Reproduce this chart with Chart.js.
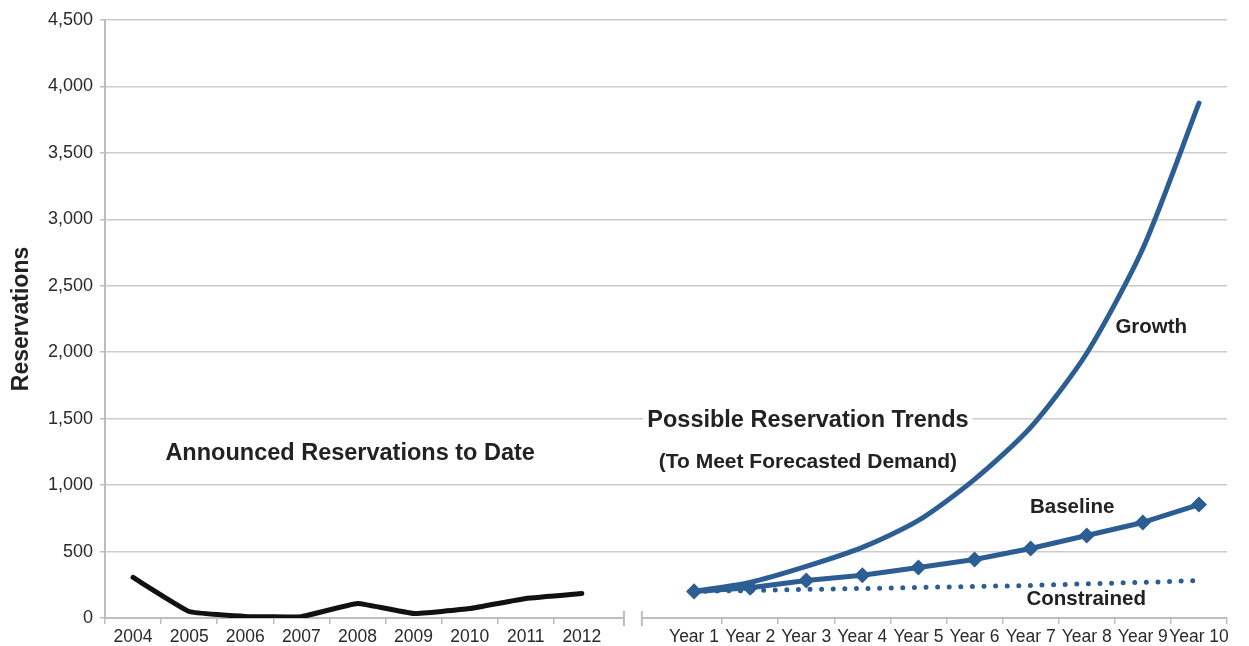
<!DOCTYPE html>
<html>
<head>
<meta charset="utf-8">
<script src="https://cdn.jsdelivr.net/npm/chart.js@4.4.1/dist/chart.umd.min.js"></script>
<style>
  html, body { margin: 0; padding: 0; background: #ffffff; }
  #wrap { width: 1249px; height: 646px; }
</style>
</head>
<body>
<div id="wrap"><canvas id="c" width="1249" height="646"></canvas></div>
<script>
// ---- data ----
const histYears = ['2004', '2005', '2006', '2007', '2008', '2009', '2010', '2011', '2012'];
const histValues = [305, 49, 12, 10, 109, 34, 71, 147, 185];
const trendYears = ['Year 1', 'Year 2', 'Year 3', 'Year 4', 'Year 5', 'Year 6', 'Year 7', 'Year 8', 'Year 9', 'Year 10'];
const growth = [200, 268, 388, 531, 734, 1043, 1434, 1992, 2780, 3874];
const baseline = [200, 228, 282, 322, 380, 440, 523, 621, 719, 854];
const constrained = [200, 207, 215, 222, 230, 237, 245, 258, 268, 282];
const yTicks = [0, 500, 1000, 1500, 2000, 2500, 3000, 3500, 4000, 4500];

// ---- build the category axis: history, one empty gap slot, trends ----
const labels = [...histYears, '', ...trendYears];
const gapIndex = histYears.length;
const padHist = arr => [...arr, ...Array(labels.length - arr.length).fill(null)];
const padTrend = arr => [...Array(gapIndex + 1).fill(null), ...arr];

const BLUE = '#2c5e93';
const FONT = '"Liberation Sans", Arial, Helvetica, sans-serif';

const annotations = [
  { text: 'Announced Reservations to Date', xi: 3.87, yv: 1239, size: 23.5 },
  { text: 'Possible Reservation Trends', xi: 12.03, yv: 1488, size: 23.5, box: true },
  { text: '(To Meet Forecasted Demand)', xi: 12.03, yv: 1170, size: 21 },
  { text: 'Growth', xi: 18.15, yv: 2189, size: 20.5 },
  { text: 'Baseline', xi: 16.74, yv: 833, size: 20.5 },
  { text: 'Constrained', xi: 16.99, yv: 137, size: 20.5 }
];

const decorPlugin = {
  id: 'decor',
  beforeDatasetsDraw(chart) {
    const { ctx, scales: { x, y } } = chart;
    ctx.save();
    ctx.textAlign = 'center';
    ctx.textBaseline = 'middle';
    annotations.forEach(a => {
      const px = x.getPixelForValue(a.xi);
      const py = y.getPixelForValue(a.yv);
      ctx.font = 'bold ' + a.size + 'px ' + FONT;
      if (a.box) {
        const w = ctx.measureText(a.text).width;
        ctx.fillStyle = '#ffffff';
        ctx.fillRect(px - w / 2 - 4, py - a.size * 0.55, w + 8, a.size * 1.1);
      }
      ctx.fillStyle = '#222222';
      ctx.fillText(a.text, px, py);
    });
    ctx.restore();
  },
  afterDraw(chart) {
    const { ctx, scales: { x, y } } = chart;
    const slot = x.getPixelForValue(1) - x.getPixelForValue(0);
    const c = x.getPixelForValue(gapIndex);
    const b1 = c - 0.25 * slot;
    const b2 = c + 0.07 * slot;
    const ay = y.getPixelForValue(0);
    ctx.save();
    ctx.fillStyle = '#ffffff';
    ctx.fillRect(b1 + 1, ay - 3, b2 - b1 - 2, 6);
    ctx.strokeStyle = '#bdbdbd';
    ctx.lineWidth = 2;
    ctx.beginPath();
    ctx.moveTo(b1, ay - 7); ctx.lineTo(b1, ay + 8);
    ctx.moveTo(b2, ay - 7); ctx.lineTo(b2, ay + 8);
    ctx.stroke();
    ctx.restore();
  }
};

new Chart(document.getElementById('c'), {
  type: 'line',
  data: {
    labels: labels,
    datasets: [
      {
        label: 'Announced Reservations to Date',
        data: padHist(histValues),
        borderColor: '#111111',
        borderWidth: 5,
        tension: 0.1,
        pointRadius: 0,
        borderCapStyle: 'round',
        borderJoinStyle: 'round'
      },
      {
        label: 'Growth',
        data: padTrend(growth),
        borderColor: BLUE,
        borderWidth: 5,
        tension: 0.25,
        pointRadius: 0,
        borderCapStyle: 'round',
        borderJoinStyle: 'round'
      },
      {
        label: 'Baseline',
        data: padTrend(baseline),
        borderColor: BLUE,
        backgroundColor: BLUE,
        borderWidth: 5,
        tension: 0,
        pointStyle: 'rectRot',
        pointRadius: 7,
        pointBorderWidth: 1.5,
        pointBackgroundColor: BLUE,
        pointBorderColor: BLUE,
        borderJoinStyle: 'round'
      },
      {
        label: 'Constrained',
        data: padTrend(constrained),
        borderColor: BLUE,
        borderWidth: 5,
        borderDash: [0, 11.6],
        borderCapStyle: 'round',
        tension: 0,
        pointRadius: 0
      }
    ]
  },
  options: {
    responsive: false,
    animation: false,
    locale: 'en-US',
    layout: { padding: { left: 8, right: 22, top: 20, bottom: 0 } },
    plugins: {
      legend: { display: false },
      tooltip: { enabled: false }
    },
    scales: {
      x: {
        type: 'category',
        offset: true,
        afterFit(s) { s.height = 28; },
        grid: {
          offset: true,
          drawOnChartArea: false,
          drawTicks: true,
          tickLength: 6,
          lineWidth: 1.5,
          color: ctx => (ctx.index === gapIndex || ctx.index === gapIndex + 1) ? 'rgba(0,0,0,0)' : '#bdbdbd'
        },
        border: { display: true, color: '#bdbdbd', width: 2 },
        ticks: {
          autoSkip: false,
          maxRotation: 0,
          minRotation: 0,
          padding: 3,
          color: '#2a2a2a',
          font: { family: FONT, size: 17.5 }
        }
      },
      y: {
        min: 0,
        max: 4500,
        afterFit(s) { s.width = 97; },
        afterBuildTicks(s) { s.ticks = yTicks.map(v => ({ value: v })); },
        grid: {
          color: '#cccccc',
          lineWidth: 1.5,
          drawTicks: true,
          tickLength: 5,
          tickColor: '#bdbdbd'
        },
        border: { display: true, color: '#bdbdbd', width: 2 },
        ticks: {
          padding: 7,
          color: '#2a2a2a',
          font: { family: FONT, size: 18 },
          callback: v => Number(v).toLocaleString('en-US')
        },
        title: {
          display: true,
          text: 'Reservations',
          color: '#222222',
          padding: { top: 0, bottom: 0 },
          font: { family: FONT, size: 23, weight: 'bold' }
        }
      }
    }
  },
  plugins: [decorPlugin]
});
</script>
</body>
</html>
